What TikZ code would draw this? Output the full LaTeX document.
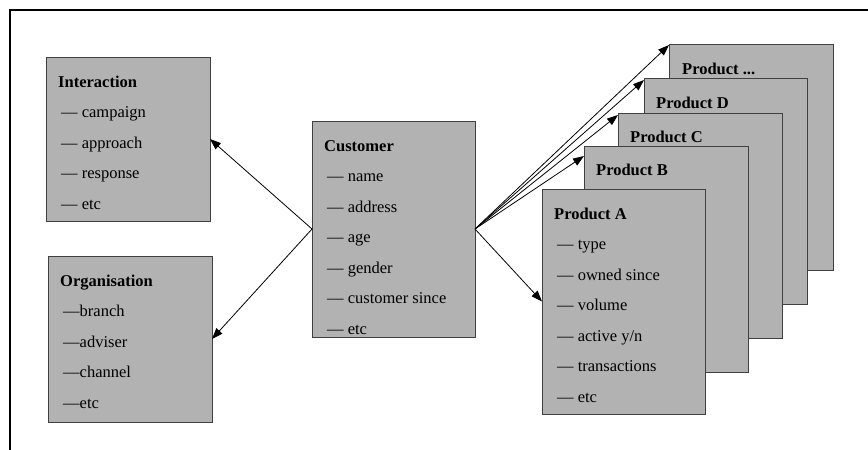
\documentclass[tikz,border=0pt]{standalone}
\usepackage{fontspec}
\setmainfont{Liberation Serif}
\usetikzlibrary{calc,arrows.meta}
\definecolor{boxgray}{RGB}{178,178,178}
\tikzset{
  card/.style={draw=black!75, line width=0.9pt, fill=boxgray, anchor=north west,
               inner sep=0pt, outer sep=0pt},
  cardtitle/.style={anchor=base west, inner sep=0pt, font=\fontsize{16.5}{19}\selectfont\bfseries},
  carditem/.style={anchor=base west, inner sep=0pt, font=\fontsize{16.5}{19}\selectfont},
  link/.style={line width=0.8pt, -{Triangle[length=11pt,width=8pt]}},
  frame/.style={line width=2pt}
}
% entity card: name, x, y, width, height, title, list of attribute lines
\newcommand\entitycard[7]{%
  \node[card, minimum width=#4, minimum height=#5] (#1) at (#2,#3) {};
  \node[cardtitle] (#1-t) at ($(#1.north west)+(12,30)$) {#6};
  \foreach \s [count=\i] in {#7} {
    \node[carditem] (#1-\i) at ($(#1.north west)+(15,30+30.5*\i)$) {\s};
  }
}
\begin{document}
\begin{tikzpicture}[x=1pt, y=-1pt]
  \useasboundingbox (0,0) rectangle (868,450);
  % page frame (top and left rules)
  \coordinate (fl) at (10,450);
  \coordinate (fc) at (10,10);
  \coordinate (fr) at (868,10);
  \draw[frame] (fl) -- (fc) -- (fr);

  % left-hand entities
  \entitycard{inter}{46}{57}{164}{164}{Interaction}{— campaign, — approach, — response, — etc}
  \entitycard{org}{48}{256}{164}{166}{Organisation}{—branch, —adviser, —channel, —etc}

  % central entity
  \entitycard{cust}{312}{121}{163}{216}{Customer}{— name, — address, — age, — gender, — customer since, — etc}

  % stack of product cards, back to front
  \node[card, minimum width=164, minimum height=226] (pz) at (669,44) {};
  \node[cardtitle] (pz-t) at ($(pz.north west)+(13,30)$) {Product ...};
  \node[card, minimum width=163, minimum height=226] (pd) at (644,78) {};
  \node[cardtitle] (pd-t) at ($(pd.north west)+(12,30)$) {Product D};
  \node[card, minimum width=164, minimum height=225] (pc) at (618,113) {};
  \node[cardtitle] (pc-t) at ($(pc.north west)+(12,29)$) {Product C};
  \node[card, minimum width=164, minimum height=226] (pb) at (584,146) {};
  \node[cardtitle] (pb-t) at ($(pb.north west)+(12,29)$) {Product B};
  \entitycard{pa}{542}{189}{163}{225}{Product A}{— type, — owned since, — volume, — active y/n, — transactions, — etc}

  % relationships
  \draw[link] (cust.west) -- (inter.east);
  \draw[link] (cust.west) -- (org.east);
  \draw[link] (cust.east) -- (pa.west);
  \draw[link] (cust.east) -- ($(pb.north west)+(0,10)$);
  \draw[link] (cust.east) -- ($(pc.north west)+(0,2)$);
  \draw[link] (cust.east) -- ($(pd.north west)+(0,2)$);
  \draw[link] (cust.east) -- ($(pz.north west)+(0,1)$);
\end{tikzpicture}
\end{document}
